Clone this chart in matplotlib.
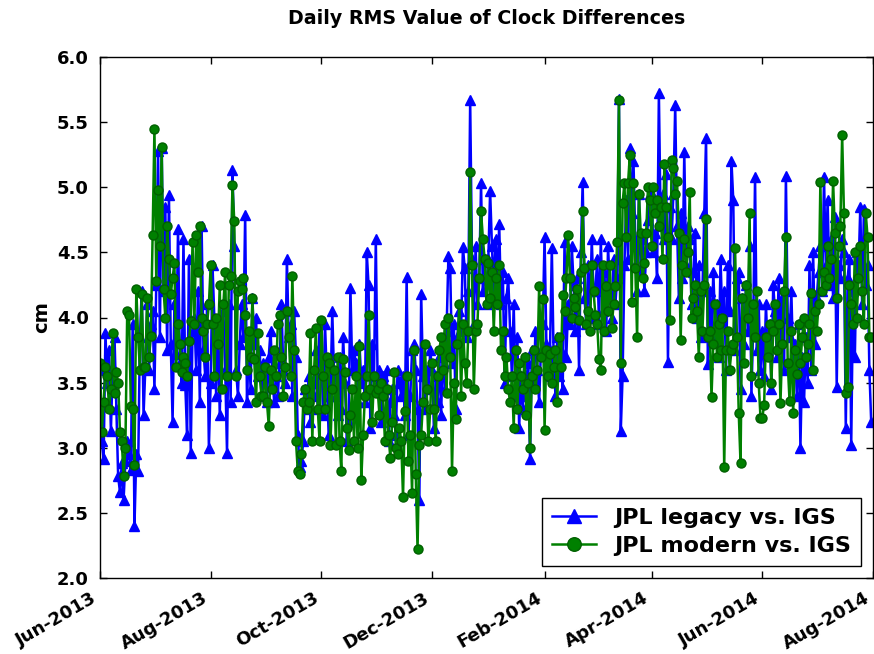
import matplotlib
matplotlib.use("Agg")
import matplotlib.pyplot as plt
import matplotlib.dates as mdates
import pandas as pd

title = "Daily RMS Value of Clock Differences"
ylabel = "cm"
legend_labels = ["JPL legacy vs. IGS", "JPL modern vs. IGS"]
start_date = "2013-06-01"

legacy = [
    # Jun 2013
    3.60, 3.05, 2.91, 3.88, 3.50, 3.75, 3.13, 3.62, 3.85, 3.30, 2.78, 2.66, 2.88, 2.60, 2.90,
    3.05, 2.95, 2.83, 3.95, 2.40, 2.95, 2.82, 3.85, 4.20, 3.25, 3.62, 4.10, 3.60, 3.95, 4.05,
    # Jul 2013
    3.45, 4.25, 5.28, 3.85, 5.30, 4.20, 4.85, 3.75, 4.94, 3.80, 3.20, 4.10, 3.72, 4.68, 3.65,
    3.50, 4.60, 3.48, 3.10, 4.45, 2.96, 3.90, 4.00, 3.60, 4.20, 3.35, 4.70, 3.75, 3.55, 4.10, 3.00,
    # Aug 2013
    3.50, 4.40, 4.00, 3.40, 3.95, 3.25, 3.95, 4.05, 3.60, 2.96, 4.10, 3.35, 5.13, 4.55, 3.60,
    3.40, 3.80, 4.10, 3.85, 4.79, 3.35, 3.80, 3.45, 4.15, 3.80, 4.00, 3.55, 3.75, 3.40, 3.65, 3.55,
    # Sep 2013
    3.35, 3.70, 3.90, 3.55, 3.35, 3.55, 3.40, 3.65, 4.10, 3.60, 3.50, 4.45, 3.85, 3.95, 3.40,
    4.05, 3.70, 3.10, 2.85, 2.90, 3.05, 3.45, 3.30, 3.55, 3.20, 3.50, 3.40, 3.75, 3.30, 3.95,
    # Oct 2013
    3.70, 3.25, 3.95, 3.55, 3.10, 3.40, 4.05, 3.55, 3.40, 3.25, 3.70, 3.30, 3.85, 3.50, 3.05,
    3.20, 4.23, 3.60, 3.75, 3.65, 3.35, 3.80, 3.50, 3.60, 3.35, 4.50, 4.25, 3.15, 3.80, 3.55, 4.60,
    # Nov 2013
    3.50, 3.60, 3.20, 3.55, 3.45, 3.60, 3.05, 3.35, 3.45, 3.25, 3.10, 3.60, 3.50, 3.40, 3.55,
    3.25, 4.31, 3.10, 3.40, 3.75, 3.80, 3.60, 3.30, 2.60, 4.18, 3.55, 3.30, 3.60, 3.45, 3.75,
    # Dec 2013
    3.60, 3.15, 3.55, 3.35, 3.70, 3.25, 3.80, 3.45, 3.90, 4.47, 4.38, 3.65, 3.95, 3.30, 3.85,
    4.05, 3.90, 4.54, 4.38, 3.85, 4.20, 5.67, 4.45, 3.95, 4.55, 4.10, 4.30, 5.03, 4.20, 4.45, 4.10,
    # Jan 2014
    4.45, 4.97, 4.55, 4.20, 4.60, 4.25, 4.72, 4.10, 4.35, 3.50, 4.15, 4.30, 3.90, 3.55, 4.10,
    3.40, 3.85, 3.15, 3.55, 3.30, 3.70, 3.40, 3.65, 2.91, 3.75, 3.50, 3.90, 3.60, 3.35, 3.75, 3.95,
    # Feb 2014
    4.62, 3.80, 3.55, 3.75, 4.53, 3.70, 3.40, 3.85, 3.55, 3.75, 3.45, 4.58, 3.70, 4.10,
    3.95, 4.55, 4.25, 3.90, 4.30, 3.60, 4.50, 5.04, 4.15, 3.95, 4.40, 4.00, 4.60, 4.20,
    # Mar 2014
    4.20, 4.45, 3.95, 4.60, 4.05, 4.35, 3.90, 4.55, 4.20, 4.00, 4.45, 4.10, 4.30, 5.68, 3.13,
    3.55, 4.40, 4.90, 4.45, 5.30, 4.80, 5.20, 4.60, 4.20, 4.95, 4.35, 4.60, 4.20, 4.50, 4.75, 4.95,
    # Apr 2014
    4.95, 4.50, 4.65, 4.30, 5.72, 4.70, 4.95, 4.60, 5.10, 3.66, 4.85, 4.60, 4.95, 5.63, 4.70,
    4.15, 4.80, 4.30, 5.27, 4.40, 4.70, 4.60, 4.10, 4.35, 4.65, 4.00, 4.40, 3.85, 4.20, 4.80,
    # May 2014
    5.38, 3.64, 4.20, 3.85, 4.35, 3.95, 4.10, 3.70, 4.45, 3.95, 4.20, 3.60, 4.40, 4.05, 5.20,
    4.90, 3.75, 4.30, 4.35, 3.45, 4.15, 3.80, 4.25, 3.90, 4.55, 3.40, 3.95, 5.08, 3.75, 4.10, 3.60,
    # Jun 2014
    3.90, 3.55, 4.10, 3.75, 3.95, 3.45, 4.25, 4.05, 3.70, 4.30, 3.85, 4.15, 3.60, 5.09, 4.00,
    3.85, 4.20, 3.65, 3.80, 3.40, 3.95, 3.00, 3.70, 3.35, 3.85, 3.50, 4.40, 3.60, 4.50, 3.80,
    # Jul 2014
    4.15, 4.35, 4.55, 4.20, 5.08, 4.40, 4.90, 4.25, 4.60, 4.15, 4.77, 3.47, 4.40, 4.30, 4.60,
    4.50, 3.15, 4.30, 4.45, 3.02, 4.20, 3.70, 4.50, 4.35, 4.85, 4.10, 4.83, 4.25, 4.40, 3.60, 3.20,
]

modern = [
    # Jun 2013
    3.65, 3.12, 3.35, 3.62, 3.55, 3.30, 3.45, 3.88, 3.42, 3.58, 3.50, 3.12, 3.05, 2.78, 3.00,
    4.05, 4.02, 3.32, 3.30, 2.87, 4.22, 3.85, 3.60, 4.18, 3.62, 3.62, 4.15, 3.70, 3.86, 4.63,
    # Jul 2013
    5.45, 4.28, 4.98, 4.55, 5.31, 4.22, 4.00, 4.70, 4.45, 4.18, 4.30, 4.42, 3.62, 3.95, 3.80,
    3.58, 3.70, 3.65, 3.55, 3.82, 3.97, 4.58, 3.95, 4.63, 4.35, 4.70, 4.00, 3.90, 3.70, 3.95, 4.10,
    # Aug 2013
    4.40, 3.95, 3.55, 4.00, 3.80, 4.25, 3.45, 4.10, 4.35, 3.55, 4.25, 4.32, 5.02, 4.74, 3.55,
    4.20, 4.28, 4.22, 4.30, 4.02, 3.60, 3.90, 3.70, 4.15, 3.68, 3.35, 3.88, 3.55, 3.40, 3.40, 3.62,
    # Sep 2013
    3.35, 3.17, 3.60, 3.45, 3.75, 3.55, 3.95, 4.02, 3.70, 3.40, 3.62, 4.05, 3.85, 3.55, 4.32,
    3.75, 3.05, 2.82, 2.80, 2.95, 3.35, 3.45, 3.30, 3.35, 3.88, 3.05, 3.60, 3.92, 3.30, 3.05,
    # Oct 2013
    3.98, 3.55, 3.30, 3.70, 3.65, 3.02, 3.45, 3.60, 3.02, 3.70, 3.05, 2.82, 3.68, 3.58, 3.15,
    2.98, 3.25, 3.45, 3.05, 3.55, 3.00, 3.78, 2.75, 3.10, 3.40, 3.55, 4.02, 3.45, 3.20, 3.55, 3.42,
    # Nov 2013
    3.45, 3.25, 3.50, 3.40, 3.05, 3.45, 3.10, 2.92, 3.20, 3.58, 3.00, 2.95, 3.15, 3.05, 2.62,
    3.28, 3.55, 2.90, 3.10, 2.65, 3.75, 2.80, 2.22, 3.02, 3.10, 3.35, 3.80, 3.45, 3.05, 3.30,
    # Dec 2013
    3.65, 3.30, 3.05, 3.55, 3.75, 3.85, 3.60, 3.95, 3.42, 4.00, 3.70, 2.82, 3.50, 3.22, 3.80,
    4.10, 3.40, 3.95, 3.65, 3.50, 3.90, 5.12, 4.40, 3.45, 3.90, 3.95, 4.30, 4.82, 4.60, 4.45, 4.10,
    # Jan 2014
    4.42, 4.15, 4.35, 3.90, 4.30, 4.10, 4.40, 3.75, 3.90, 3.55, 3.70, 3.45, 3.35, 3.55, 3.15,
    3.75, 3.30, 3.65, 3.55, 3.45, 3.70, 3.25, 3.50, 3.00, 3.55, 3.75, 3.45, 3.60, 4.24, 3.70, 4.14,
    # Feb 2014
    3.14, 3.75, 3.55, 3.72, 3.50, 3.62, 3.75, 3.35, 3.85, 3.62, 4.17, 4.05, 4.30, 4.63,
    4.30, 4.00, 4.15, 4.08, 4.22, 3.98, 4.35, 4.82, 4.38, 3.95, 4.05, 3.90, 4.40, 4.20,
    # Mar 2014
    4.02, 3.95, 3.68, 3.60, 4.40, 3.90, 4.24, 4.05, 4.40, 3.92, 4.10, 4.24, 4.58, 5.67, 3.65,
    4.88, 5.03, 4.62, 5.03, 5.25, 4.12, 5.03, 4.38, 3.85, 4.95, 4.65, 4.30, 4.42, 4.65, 5.00, 4.90,
    # Apr 2014
    4.55, 5.00, 4.80, 4.90, 4.70, 4.85, 4.45, 5.18, 4.85, 4.62, 3.98, 5.21, 5.15, 4.95, 5.05,
    4.65, 3.83, 4.40, 4.60, 4.35, 4.50, 4.96, 4.00, 4.15, 4.25, 4.05, 3.70, 4.20, 3.90, 4.25,
    # May 2014
    4.76, 3.85, 3.90, 3.39, 3.80, 4.10, 3.70, 3.95, 3.75, 4.00, 2.85, 3.75, 3.90, 3.60, 3.75,
    3.80, 4.53, 3.85, 3.27, 2.88, 4.15, 3.65, 4.25, 4.00, 4.80, 3.55, 4.10, 3.85, 4.20, 3.50, 3.23,
    # Jun 2014
    3.23, 3.33, 3.85, 3.70, 3.95, 3.50, 3.90, 4.10, 3.75, 3.95, 3.34, 3.80, 4.20, 4.62, 3.65,
    3.36, 3.90, 3.27, 3.75, 3.57, 3.95, 3.65, 3.85, 4.00, 3.70, 3.80, 3.95, 4.19, 3.60, 4.05,
    # Jul 2014
    3.90, 4.10, 5.04, 4.20, 4.35, 4.25, 4.55, 4.30, 4.45, 5.05, 4.65, 4.15, 4.55, 4.70, 5.40,
    4.80, 3.42, 3.47, 4.25, 4.10, 3.95, 4.50, 4.00, 4.30, 4.55, 4.20, 3.95, 4.80, 4.62, 3.85, 3.85,
]

dates_legacy = pd.date_range(start_date, periods=len(legacy), freq="D")
dates_modern = pd.date_range(start_date, periods=len(modern), freq="D")

plt.rcParams['font.family'] = ['DejaVu Sans']
plt.rcParams['font.weight'] = 'bold'

fig = plt.figure(figsize=(8.74, 6.54), dpi=100)
ax = fig.add_axes([100/874, 1-578/654, 773/874, (578-57)/654])

ax.plot(dates_legacy, legacy, color='#0000ff', marker='^', markersize=7, lw=1.8,
        mec='#0000ff', label=legend_labels[0])
ax.plot(dates_modern, modern, color='#008000', marker='o', markersize=6.5, lw=1.8,
        mec='#006000', label=legend_labels[1])

ax.set_ylim(2.0, 6.0)
ax.set_yticks([2.0, 2.5, 3.0, 3.5, 4.0, 4.5, 5.0, 5.5, 6.0])
ax.set_xlim(pd.Timestamp('2013-06-01'), pd.Timestamp('2014-08-01'))
ax.xaxis.set_major_locator(mdates.MonthLocator(bymonth=[2, 4, 6, 8, 10, 12]))
ax.xaxis.set_major_formatter(mdates.DateFormatter('%b-%Y'))
ax.yaxis.set_major_formatter(matplotlib.ticker.FormatStrFormatter('%.1f'))

ax.tick_params(direction='in', top=True, right=True, length=5, width=1, labelsize=13, pad=8)
for lab in ax.get_xticklabels():
    lab.set_rotation(30)
    lab.set_ha('right')
    lab.set_fontweight('bold')
for lab in ax.get_yticklabels():
    lab.set_fontweight('bold')
for sp in ax.spines.values():
    sp.set_linewidth(1.0)

ax.set_ylabel(ylabel, fontsize=14, fontweight='bold')
ax.set_title(title, fontsize=13.7, fontweight='bold', pad=24)

leg = ax.legend(loc='lower right', fontsize=16, fancybox=False, framealpha=1,
                edgecolor='black', borderaxespad=0.55, handlelength=2.0,
                markerscale=1.5, borderpad=0.45, labelspacing=0.35, handletextpad=0.8)
leg.get_frame().set_linewidth(1.0)
for t in leg.get_texts():
    t.set_fontweight('bold')

fig.savefig('out.png', dpi=100)
